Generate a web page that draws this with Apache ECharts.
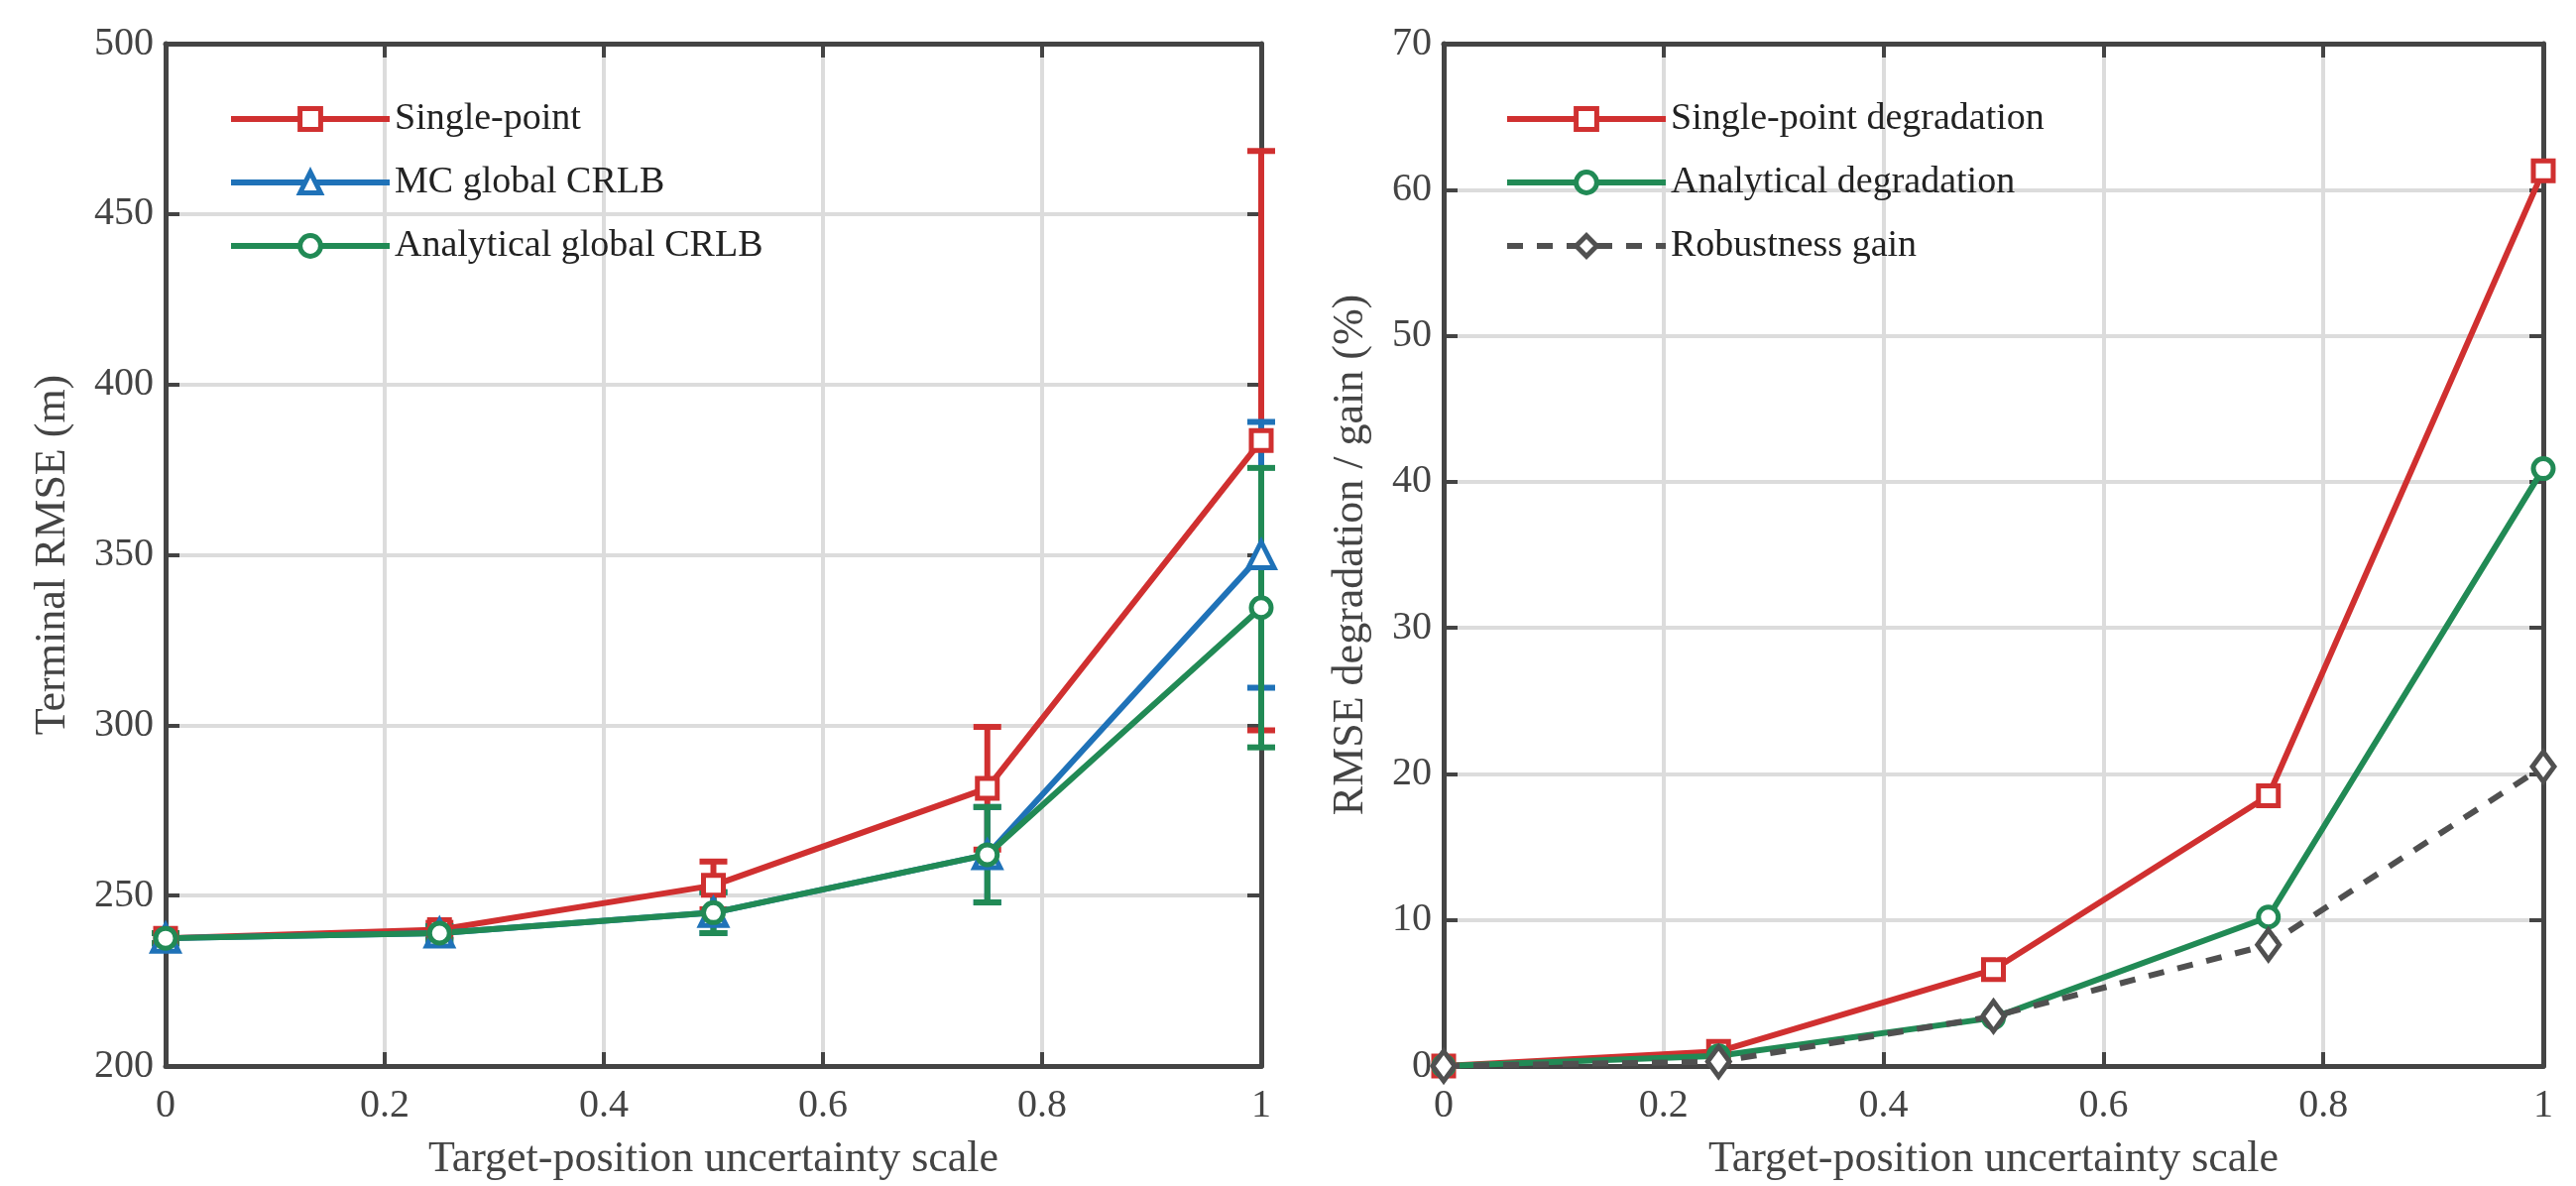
<!DOCTYPE html>
<html><head><meta charset="utf-8">
<script src="https://cdn.jsdelivr.net/npm/echarts@6/dist/echarts.min.js"></script>
<style>html,body{margin:0;background:#fff}#c{width:2598px;height:1196px}</style>
</head><body><div id="c"></div>
<script>
const xs=[0,0.25,0.5,0.75,1];
const singleRMSE=[237.5,240,253,281.5,383.5];
const singleErr=[1.5,2,7,18,85];
const mcRMSE=[237.5,239,245,262,350];
const mcErr=[1.5,2,6,14,39];
const anRMSE=[237.5,239,245,262,334.5];
const anErr=[1.5,2,6,14,41];
const singleDeg=[0,1.0,6.6,18.5,61.3];
const anDeg=[0,0.7,3.3,10.2,40.9];
const robGain=[0,0.3,3.4,8.3,20.5];
const RED='#d03030',BLUE='#1f72b8',GREEN='#218a55',GRAY='#505050',AX='#444';
const FONT='Liberation Serif';
function xA(i,show){return {gridIndex:i,type:'value',min:0,max:1,interval:0.2,position:show?'bottom':'top',
 axisLine:{show:true,onZero:false,lineStyle:{color:AX,width:5}},axisTick:{inside:true,length:14,lineStyle:{color:AX,width:4}},
 axisLabel:{show:show,fontFamily:FONT,fontSize:40,color:AX,margin:20,formatter:v=>String(+v.toFixed(1))},
 splitLine:{show:show,lineStyle:{color:'#dcdcdc',width:4}},
 name:show?'Target-position uncertainty scale':'',nameLocation:'middle',nameGap:72,nameTextStyle:{fontFamily:FONT,fontSize:44,color:AX}};}
function yA(i,show,min,max,itv,name){return {gridIndex:i,type:'value',min:min,max:max,interval:itv,position:show?'left':'right',
 axisLine:{show:true,onZero:false,lineStyle:{color:AX,width:5}},axisTick:{inside:true,length:14,lineStyle:{color:AX,width:4}},
 axisLabel:{show:show,fontFamily:FONT,fontSize:40,color:AX,margin:12},
 splitLine:{show:show,lineStyle:{color:'#dcdcdc',width:4}},
 name:show?name:'',nameLocation:'middle',nameGap:show?(i===0?92:72):0,nameTextStyle:{fontFamily:FONT,fontSize:44,color:AX}};}
function eb(vals,errs,color){return {type:'custom',xAxisIndex:0,yAxisIndex:0,z:1,silent:true,
 data:xs.map((x,i)=>[x,vals[i]-errs[i],vals[i]+errs[i]]),
 renderItem:(p,api)=>{const lo=api.coord([api.value(0),api.value(1)]),hi=api.coord([api.value(0),api.value(2)]);const w=14;
  const st={stroke:color,lineWidth:6};
  return {type:'group',children:[{type:'line',shape:{x1:lo[0],y1:lo[1],x2:hi[0],y2:hi[1]},style:st},
   {type:'line',shape:{x1:lo[0]-w,y1:lo[1],x2:lo[0]+w,y2:lo[1]},style:st},
   {type:'line',shape:{x1:hi[0]-w,y1:hi[1],x2:hi[0]+w,y2:hi[1]},style:st}]};},
 encode:{x:0,y:[1,2]}};}
function ln(name,gi,vals,color,sym,dash){return {name:name,type:'line',xAxisIndex:gi*2,yAxisIndex:gi*2,z:3,
 data:xs.map((x,i)=>[x,vals[i]]),symbol:sym,symbolSize:sym==='triangle'?26:(sym==='diamond'?[22,30]:20),showSymbol:true,
 lineStyle:{color:color,width:6,type:dash?[16,14]:'solid'},itemStyle:{color:'#fff',borderColor:color,borderWidth:5},color:color};}
const lg=(n)=>({name:n,itemStyle:{borderWidth:5},lineStyle:{width:6}});
const chart=echarts.init(document.getElementById('c'));
chart.setOption({animation:false,
 grid:[{left:167,right:1326,top:44,bottom:56},{left:1456,right:33,top:44,bottom:56}],
 xAxis:[xA(0,true),xA(0,false),xA(1,true),xA(1,false)],
 yAxis:[yA(0,true,200,500,50,'Terminal RMSE (m)'),yA(0,false,200,500,50),yA(1,true,0,70,10,'RMSE degradation / gain (%)'),yA(1,false,0,70,10)],
 legend:[{data:['Single-point','MC global CRLB','Analytical global CRLB'].map(lg),orient:'vertical',left:225,top:96,itemWidth:160,itemHeight:26,itemGap:26,
   textStyle:{fontFamily:FONT,fontSize:38,color:'#222'}},
  {data:['Single-point degradation','Analytical degradation','Robustness gain'].map(lg),orient:'vertical',left:1512,top:96,itemWidth:160,itemHeight:26,itemGap:26,
   textStyle:{fontFamily:FONT,fontSize:38,color:'#222'}}],
 series:[eb(singleRMSE,singleErr,RED),eb(mcRMSE,mcErr,BLUE),eb(anRMSE,anErr,GREEN),
  ln('Single-point',0,singleRMSE,RED,'rect'),ln('MC global CRLB',0,mcRMSE,BLUE,'triangle'),ln('Analytical global CRLB',0,anRMSE,GREEN,'circle'),
  ln('Single-point degradation',1,singleDeg,RED,'rect'),ln('Analytical degradation',1,anDeg,GREEN,'circle'),ln('Robustness gain',1,robGain,GRAY,'diamond',true)]
});
</script></body></html>
